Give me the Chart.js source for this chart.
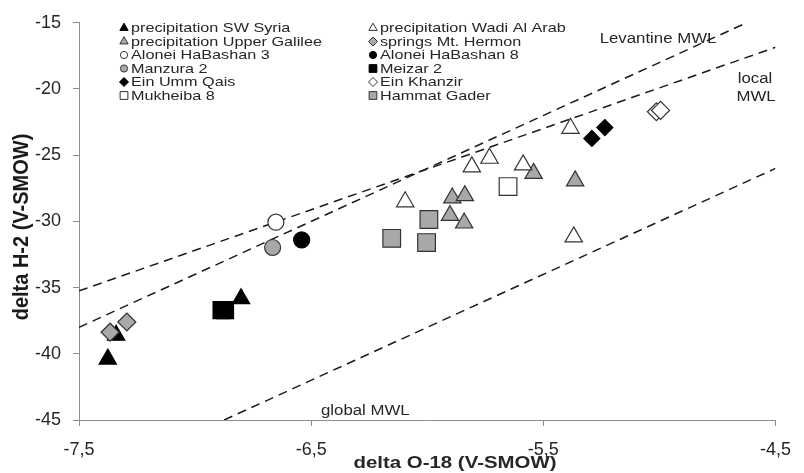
<!DOCTYPE html>
<html>
<head>
<meta charset="utf-8">
<script src="https://cdn.jsdelivr.net/npm/chart.js@4.4.0/dist/chart.umd.min.js"></script>
<style>
  html, body { margin: 0; padding: 0; background: #fff; }
  #wrap { width: 804px; height: 473px; position: relative; }
</style>
</head>
<body>
<div id="wrap"><canvas id="chart"></canvas></div>
<script>
/* delta O-18 / delta H-2 plot */

const xTicks = [-7.5, -6.5, -5.5, -4.5];
const yTicks = [-45, -40, -35, -30, -25, -20, -15];

const swSyriaX = [-7.376, -7.34, -6.802];
const swSyriaY = [-40.4, -38.6, -35.84];
const wadiArabX = [-6.095, -5.808, -5.732, -5.587, -5.383, -5.369];
const wadiArabY = [-28.52, -25.88, -25.23, -25.73, -22.97, -31.17];
const galileeX = [-5.892, -5.838, -5.902, -5.841, -5.542, -5.363];
const galileeY = [-28.23, -28.06, -29.55, -30.12, -26.37, -26.94];
const hermonX = [-7.366, -7.294];
const hermonY = [-38.37, -37.6];
const alonei3X = [-6.652];
const alonei3Y = [-30.06];
const alonei8X = [-6.541];
const alonei8Y = [-31.4];
const manzuraX = [-6.666];
const manzuraY = [-31.97];
const meizarX = [-6.886, -6.871];
const meizarY = [-36.7, -36.7];
const ummQaisX = [-5.291, -5.235];
const ummQaisY = [-23.73, -22.91];
const khanzirX = [-5.013, -4.995];
const khanzirY = [-21.72, -21.62];
const mukheibaX = [-5.652];
const mukheibaY = [-27.37];
const hammatX = [-6.153, -5.993, -6.003];
const hammatY = [-31.28, -29.86, -31.6];

// meteoric water lines (end points)
const levantineX = [-7.5, -4.625];
const levantineY = [-38, -15];
const localX = [-7.5, -4.5];
const localY = [-35.25, -16.85];
const globalX = [-6.875, -4.5];
const globalY = [-45, -26];

const BLACK = '#000000';
const GREY = '#a8a8a8';
const WHITE = '#ffffff';
const SX = 1.2; // figure text is drawn slightly wide

function pts(xs, ys) {
  return xs.map((x, i) => ({ x: x, y: ys[i] }));
}

function series(label, xs, ys, style, fill, radius, legendRadius, order) {
  return {
    label: label,
    data: pts(xs, ys),
    pointStyle: style,
    pointRadius: radius,
    pointBackgroundColor: fill,
    pointBorderColor: fill === BLACK ? BLACK : '#333333',
    pointBorderWidth: 1.2,
    legendRadius: legendRadius,
    inLegend: true,
    order: order || 0,
  };
}

function mwl(xs, ys) {
  return {
    label: '',
    data: pts(xs, ys),
    showLine: true,
    pointRadius: 0,
    borderColor: '#1a1a1a',
    borderWidth: 1.5,
    borderDash: [9, 6],
    fill: false,
    order: 10,
  };
}

const datasets = [
  series('precipitation SW Syria', swSyriaX, swSyriaY, 'triangle', BLACK, 10, 4.8),
  series('precipitation Wadi Al Arab', wadiArabX, wadiArabY, 'triangle', WHITE, 10, 4.8),
  series('precipitation Upper Galilee', galileeX, galileeY, 'triangle', GREY, 10, 4.8),
  series('springs Mt. Hermon', hermonX, hermonY, 'rectRot', GREY, 9, 4.5, -1),
  series('Alonei HaBashan 3', alonei3X, alonei3Y, 'circle', WHITE, 8, 3.6),
  series('Alonei HaBashan 8', alonei8X, alonei8Y, 'circle', BLACK, 8, 3.6),
  series('Manzura 2', manzuraX, manzuraY, 'circle', GREY, 8, 3.6),
  series('Meizar 2', meizarX, meizarY, 'rect', BLACK, 12, 5.5),
  series('Ein Umm Qais', ummQaisX, ummQaisY, 'rectRot', BLACK, 8, 4.5),
  series('Ein Khanzir', khanzirX, khanzirY, 'rectRot', WHITE, 9, 4.5),
  series('Mukheiba 8', mukheibaX, mukheibaY, 'rect', WHITE, 12.5, 5.5),
  series('Hammat Gader', hammatX, hammatY, 'rect', GREY, 12.5, 5.5),
  mwl(levantineX, levantineY),
  mwl(localX, localY),
  mwl(globalX, globalY),
];

function wideText(ctx, txt, x, y, font, align) {
  ctx.save();
  ctx.font = font;
  ctx.fillStyle = '#262626';
  ctx.textAlign = align || 'left';
  ctx.textBaseline = 'middle';
  ctx.translate(x, y);
  ctx.scale(SX, 1);
  ctx.fillText(txt, 0, 0);
  ctx.restore();
}

// two column legend in the upper left of the plot
const columnLegend = {
  id: 'columnLegend',
  afterDatasetsDraw(chart) {
    const ctx = chart.ctx;
    const items = chart.data.datasets.filter(d => d.inLegend);
    items.forEach((ds, i) => {
      const mx = i % 2 ? 373 : 124;
      const my = 28 + Math.floor(i / 2) * 13.5;
      ctx.save();
      ctx.fillStyle = ds.pointBackgroundColor;
      ctx.strokeStyle = ds.pointBorderColor;
      ctx.lineWidth = 1;
      Chart.helpers.drawPoint(ctx, { pointStyle: ds.pointStyle, radius: ds.legendRadius, borderWidth: 1, rotation: 0 }, mx, my);
      ctx.restore();
      wideText(ctx, ds.label, mx + 7, my + 0.5, '13.5px "Liberation Sans", Arial, sans-serif');
    });
  },
};

// line names and axis titles
const figureText = {
  id: 'figureText',
  afterDatasetsDraw(chart) {
    const ctx = chart.ctx;
    const f = '14px "Liberation Sans", Arial, sans-serif';
    wideText(ctx, 'Levantine MWL', 658, 39, f, 'center');
    wideText(ctx, 'local', 755, 79, f, 'center');
    wideText(ctx, 'MWL', 756, 97, f, 'center');
    wideText(ctx, 'global MWL', 321, 411, f, 'left');
    wideText(ctx, 'delta O-18 (V-SMOW)', 455, 463, 'bold 17px "Liberation Sans", Arial, sans-serif', 'center');

    ctx.save();
    ctx.font = 'bold 20px "Liberation Sans", Arial, sans-serif';
    ctx.fillStyle = '#1a1a1a';
    ctx.textAlign = 'center';
    ctx.textBaseline = 'middle';
    ctx.translate(22, 227);
    ctx.rotate(-Math.PI / 2);
    ctx.scale(1, 1.1);
    ctx.fillText('delta H-2 (V-SMOW)', 0, 0);
    ctx.restore();
  },
};

Chart.defaults.font.family = '"Liberation Sans", Arial, sans-serif';
Chart.defaults.color = '#262626';

const axisGrey = '#8c8c8c';

new Chart(document.getElementById('chart'), {
  type: 'scatter',
  data: { datasets: datasets },
  options: {
    responsive: true,
    maintainAspectRatio: false,
    animation: false,
    events: [],
    layout: { padding: { top: 17, right: 16, left: 0, bottom: 0 } },
    plugins: {
      legend: { display: false },
      tooltip: { enabled: false },
    },
    scales: {
      x: {
        type: 'linear',
        min: -7.5, max: -4.5,
        afterBuildTicks: s => { s.ticks = xTicks.map(v => ({ value: v })); },
        afterFit: s => { s.height = 53; },
        grid: { drawOnChartArea: false, drawTicks: true, tickLength: 6, color: axisGrey },
        border: { display: true, color: axisGrey, width: 1 },
        ticks: {
          font: { size: 18 }, color: '#262626', padding: 13, maxRotation: 0,
          callback: v => String(v).replace('.', ','),
        },
      },
      y: {
        type: 'linear',
        min: -45, max: -15,
        afterBuildTicks: s => { s.ticks = yTicks.map(v => ({ value: v })); },
        afterFit: s => { s.width = 79; },
        grid: { drawOnChartArea: false, drawTicks: true, tickLength: 6, color: axisGrey },
        border: { display: true, color: axisGrey, width: 1 },
        ticks: { font: { size: 18 }, color: '#262626', padding: 12 },
      },
    },
  },
  plugins: [columnLegend, figureText],
});
</script>
</body>
</html>
